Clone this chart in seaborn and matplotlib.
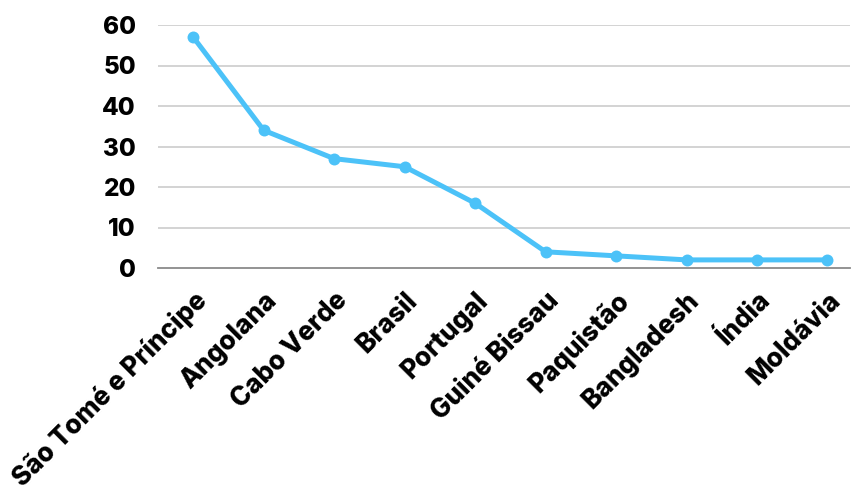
import matplotlib
matplotlib.use("Agg")
import matplotlib.pyplot as plt
import seaborn as sns
import pandas as pd

countries = ["São Tomé e Príncipe", "Angolana", "Cabo Verde", "Brasil", "Portugal",
             "Guiné Bissau", "Paquistão", "Bangladesh", "Índia", "Moldávia"]
values = [57, 34, 27, 25, 16, 4, 3, 2, 2, 2]
yticks = [0, 10, 20, 30, 40, 50, 60]

sns.set_style("white")
plt.rcParams['font.family'] = ['Inter', 'DejaVu Sans']
plt.rcParams['text.color'] = 'black'
plt.rcParams['xtick.color'] = 'black'
plt.rcParams['ytick.color'] = 'black'

df = pd.DataFrame({"x": range(len(countries)), "v": values})

fig = plt.figure(figsize=(8.53, 4.91), dpi=100)
ax = fig.add_axes([158/853, 1-268/491, (850-158)/853, (268-25)/491])
sns.lineplot(data=df, x="x", y="v", ax=ax, color="#4CC2F8", linewidth=3.6,
             marker="o", markersize=8.6, markeredgewidth=0, solid_capstyle="round")
ax.set_xlim(-0.5, 9.32)
ax.set_ylim(0, 60)
ax.set_yticks(yticks)
ax.set_yticklabels([str(t) for t in yticks], fontsize=17.5, fontweight="heavy", color="black")
ax.set_xticks(range(len(countries)))
ax.set_xticklabels(countries, fontsize=18.8, fontweight="heavy", rotation=45,
                   ha="right", rotation_mode="anchor", color="black")
ax.tick_params(axis="both", length=0)
ax.tick_params(axis="y", pad=16)
ax.tick_params(axis="x", pad=14)
for t in yticks[1:]:
    ax.axhline(t, color="#cccccc", linewidth=1.2, zorder=0)
for s in ["top", "right", "left"]:
    ax.spines[s].set_visible(False)
ax.spines["bottom"].set_color("#8a8a8a")
ax.spines["bottom"].set_linewidth(1.3)
ax.set_xlabel("")
ax.set_ylabel("")
fig.savefig("out.png", dpi=100)
